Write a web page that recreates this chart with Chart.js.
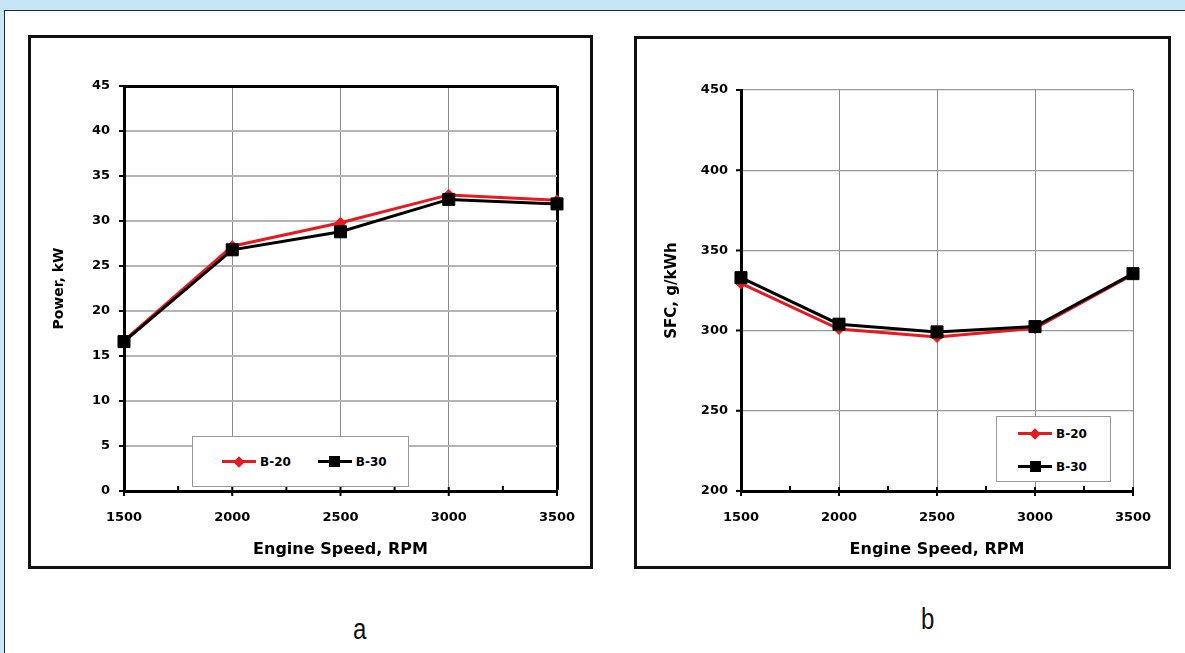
<!DOCTYPE html>
<html>
<head>
<meta charset="utf-8" />
<title>Power and SFC vs Engine Speed</title>
<script src="https://cdn.jsdelivr.net/npm/chart.js"></script>
<style>
  body, html { margin: 0; padding: 0; width: 1185px; height: 653px; overflow: hidden; background: #c6e6f6; }
  #panel { position: absolute; left: 4px; top: 10px; width: 1200px; height: 660px; background: #fff;
           border-top: 1.5px solid #2b2b2b; border-left: 1.5px solid #2b2b2b; }
  .frame { position: absolute; border: 3px solid #111; background: #fff; }
  .frame canvas { display: block; }
  .legend { position: absolute; background: #fff; border: 1px solid #999; box-sizing: border-box;
            font: bold 12px "DejaVu Sans"; color: #000; display: flex; white-space: nowrap; }
  #legA { flex-direction: row; align-items: center; padding-left: 29px; }
  #legB { flex-direction: column; padding-left: 21px; }
  .item { display: flex; align-items: center; flex-shrink: 0; }
  #legA .item { margin-right: 27px; }
  #legB .item { height: 33px; }
  .key { position: relative; width: 34px; height: 14px; margin-right: 4px; flex-shrink: 0; }
  .key .ln { position: absolute; left: 0; right: 0; top: 5.5px; height: 3px; }
  .key .mk { position: absolute; left: 50%; top: 50%; }
  .caption { position: absolute; font: 30px "Liberation Sans", sans-serif; color: #111;
             transform: scaleX(0.8); transform-origin: left top; }
</style>
</head>
<body>
<div id="panel"></div>
<div class="frame" style="left:28px;top:35px;"><canvas id="chartA" width="559" height="528"></canvas></div>
<div class="frame" style="left:634px;top:36px;"><canvas id="chartB" width="531" height="527"></canvas></div>
<div class="legend" id="legA" style="left:192px;top:436px;width:217px;height:51px;"></div>
<div class="legend" id="legB" style="left:996px;top:416px;width:115px;height:66px;"></div>
<div class="caption" style="left:353px;top:612px;">a</div>
<div class="caption" style="left:921px;top:602px;">b</div>
<script>
// engine speed, RPM
const rpm = [1500, 2000, 2500, 3000, 3500];
const rpmMinorTicks = [1750, 2250, 2750, 3250];

// power, kW
const powerB20 = [16.7, 27.2, 29.8, 32.9, 32.3];
const powerB30 = [16.6, 26.8, 28.8, 32.4, 31.9];
const powerTicks = [0, 5, 10, 15, 20, 25, 30, 35, 40, 45];

// specific fuel consumption, g/kWh
const sfcB20 = [329.5, 301, 296, 301.5, 335];
const sfcB30 = [333, 304, 299.2, 302.5, 335.5];
const sfcTicks = [200, 250, 300, 350, 400, 450];

const seriesLabels = ["B-20", "B-30"];
const red = "#e8191f";

Chart.defaults.font.family = "DejaVu Sans";
Chart.defaults.font.weight = "bold";
Chart.defaults.color = "#000";

// short black tick marks on both axes, minor ones on x
const tickMarks = {
  id: "tickMarks",
  beforeDatasetsDraw(chart, args, opts) {
    const { ctx, chartArea, scales: { x, y } } = chart;
    ctx.save();
    ctx.strokeStyle = "#000";
    ctx.lineWidth = 2;
    ctx.beginPath();
    x.ticks.forEach(t => {
      const px = x.getPixelForValue(t.value);
      ctx.moveTo(px, chartArea.bottom - 4);
      ctx.lineTo(px, chartArea.bottom + 5);
    });
    (opts.minor || []).forEach(v => {
      const px = x.getPixelForValue(v);
      ctx.moveTo(px, chartArea.bottom - 5);
      ctx.lineTo(px, chartArea.bottom);
    });
    y.ticks.forEach(t => {
      const py = y.getPixelForValue(t.value);
      ctx.moveTo(chartArea.left - 5, py);
      ctx.lineTo(chartArea.left, py);
    });
    ctx.stroke();
    ctx.restore();
  }
};

function toPoints(ys) {
  return rpm.map((r, i) => ({ x: r, y: ys[i] }));
}

function makeDatasets(b20, b30) {
  return [
    {
      label: seriesLabels[0], data: toPoints(b20), order: 1,
      borderColor: red, backgroundColor: red, borderWidth: 3,
      pointStyle: "rectRot", pointRadius: 5.5, pointBorderWidth: 1, tension: 0, clip: false
    },
    {
      label: seriesLabels[1], data: toPoints(b30), order: 0,
      borderColor: "#000", backgroundColor: "#000", borderWidth: 3,
      pointStyle: "rect", pointRadius: 8.5, pointBorderWidth: 1, tension: 0, clip: false
    }
  ];
}

function makeChart(id, o) {
  const lastY = o.yTicks[o.yTicks.length - 1];
  const lastX = rpm[rpm.length - 1];
  return new Chart(document.getElementById(id), {
    type: "line",
    data: { datasets: makeDatasets(o.b20, o.b30) },
    plugins: [tickMarks],
    options: {
      responsive: false,
      animation: false,
      layout: { padding: { top: o.padTop, right: o.padRight, left: 0, bottom: 0 } },
      plugins: {
        legend: { display: false },
        tooltip: { enabled: false },
        tickMarks: { minor: rpmMinorTicks }
      },
      scales: {
        x: {
          type: "linear",
          min: rpm[0],
          max: lastX,
          afterBuildTicks: s => { s.ticks = rpm.map(v => ({ value: v })); },
          afterFit: s => { s.height = o.xHeight; s.paddingLeft = 0; s.paddingRight = 0; },
          ticks: {
            font: { size: 13, weight: "bold" }, padding: 19, maxRotation: 0, color: "#000",
            callback: v => String(v)
          },
          grid: {
            drawTicks: false,
            color: c => (o.box && c.tick && c.tick.value === lastX) ? "#000" : o.vGrid,
            lineWidth: c => (o.box && c.tick && c.tick.value === lastX) ? 3 : 1
          },
          border: { color: "#000", width: 3 },
          title: {
            display: true, text: "Engine Speed, RPM", color: "#000",
            font: { size: 16, weight: "bold" }, padding: { top: 0, bottom: 7 }
          }
        },
        y: {
          min: o.yTicks[0],
          max: lastY,
          afterBuildTicks: s => { s.ticks = o.yTicks.map(v => ({ value: v })); },
          afterFit: s => { s.width = o.yWidth; s.paddingTop = 0; s.paddingBottom = 0; },
          ticks: { font: { size: 13, weight: "bold" }, padding: o.yPad, color: "#000", callback: v => String(v) },
          grid: {
            drawTicks: false,
            color: c => (o.box && c.tick && c.tick.value === lastY) ? "#000" : o.hGrid,
            lineWidth: c => (o.box && c.tick && c.tick.value === lastY) ? 3 : o.hGridWidth
          },
          border: { color: "#000", width: 3 },
          title: {
            display: true, text: o.yTitle, color: "#000",
            font: { size: o.yTitleSize, weight: "bold" }, padding: { top: o.yTitlePad, bottom: 0 }
          }
        }
      }
    }
  });
}

makeChart("chartA", {
  b20: powerB20, b30: powerB30, yTicks: powerTicks, yTitle: "Power, kW", yTitleSize: 14,
  padTop: 48, padRight: 33, xHeight: 75, yWidth: 93, yPad: 14, yTitlePad: 20,
  box: true, hGrid: "#b5b5b5", hGridWidth: 2, vGrid: "#8a8a8a"
});

makeChart("chartB", {
  b20: sfcB20, b30: sfcB30, yTicks: sfcTicks, yTitle: "SFC, g/kWh", yTitleSize: 15,
  padTop: 51, padRight: 35, xHeight: 75, yWidth: 104, yPad: 13, yTitlePad: 26,
  box: false, hGrid: "#9a9a9a", hGridWidth: 1.2, vGrid: "#8a8a8a"
});

// html legends built from the series labels
const markers = [
  { color: red, css: "width:8px;height:8px;margin:-4px 0 0 -4px;transform:rotate(45deg);" },
  { color: "#000", css: "width:11px;height:11px;margin:-5.5px 0 0 -5.5px;" }
];
["legA", "legB"].forEach(id => {
  const box = document.getElementById(id);
  seriesLabels.forEach((lbl, i) => {
    const m = markers[i];
    const item = document.createElement("div");
    item.className = "item";
    item.innerHTML =
      '<span class="key"><span class="ln" style="background:' + m.color + '"></span>' +
      '<span class="mk" style="background:' + m.color + ';' + m.css + '"></span></span>' +
      '<span>' + lbl + '</span>';
    box.appendChild(item);
  });
});
</script>
</body>
</html>
